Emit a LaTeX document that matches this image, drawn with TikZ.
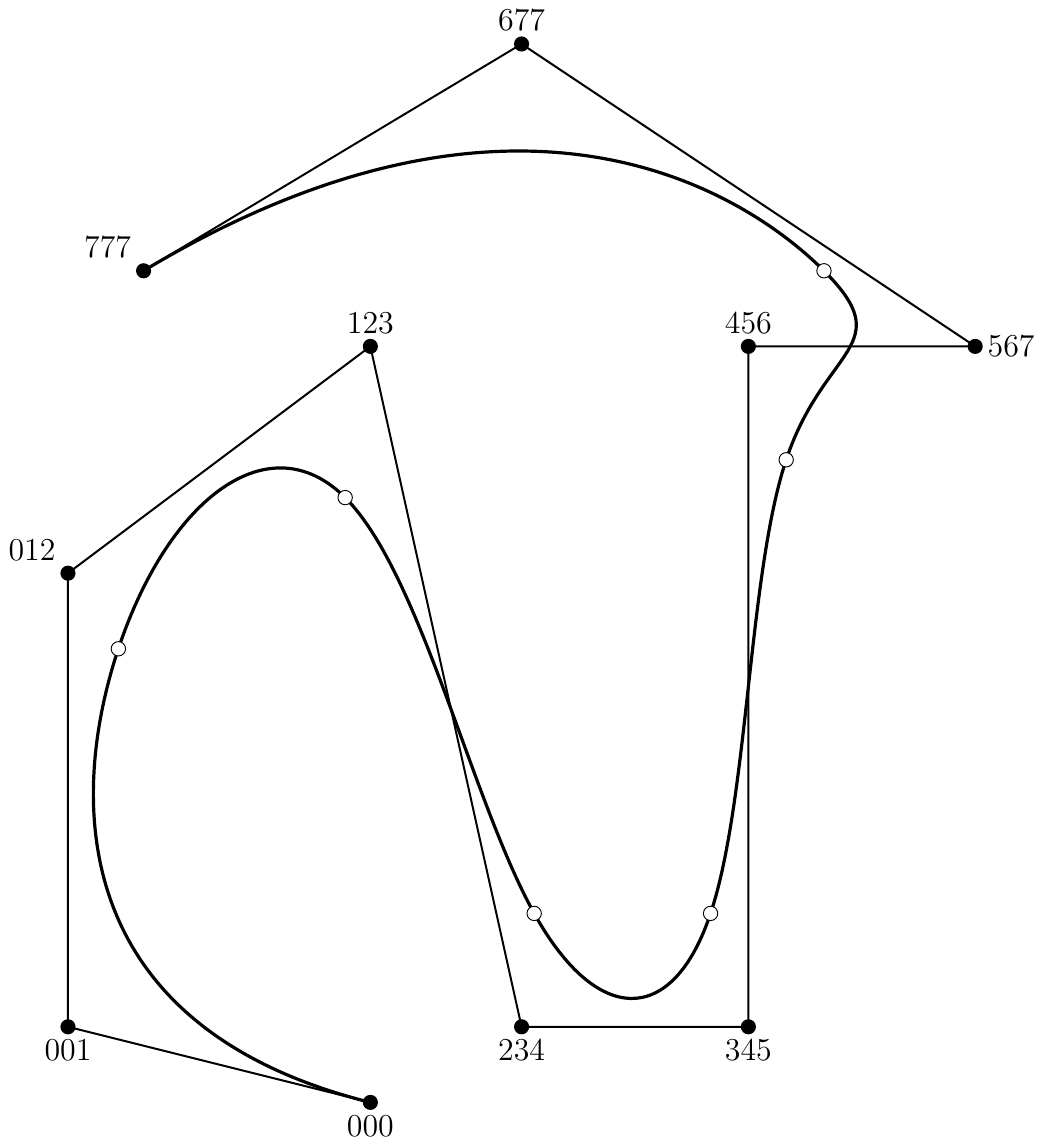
\documentclass[tikz,border=0pt]{standalone}
\begin{document}
\begin{tikzpicture}[
  poly/.style={line width=0.75pt},
  curve/.style={line width=1.2pt},
  ctrl/.style={circle,fill=black,inner sep=0pt,minimum size=0.2cm},
  knot/.style={circle,draw=black,fill=white,line width=0.35pt,inner sep=0pt,minimum size=0.19cm},
  lab/.style={font=\large,inner sep=4.5pt}
]
\useasboundingbox (-0.899,-0.537) rectangle (12.884,14.582);
% control points
\coordinate (p000) at (4,0);
\coordinate (p001) at (0,1);
\coordinate (p012) at (0,7);
\coordinate (p123) at (4,10);
\coordinate (p234) at (6,1);
\coordinate (p345) at (9,1);
\coordinate (p456) at (9,10);
\coordinate (p567) at (12,10);
\coordinate (p677) at (6,14);
\coordinate (p777) at (1,11);
% knot points
\coordinate (k1) at (2/3,6);
\coordinate (k2) at (11/3,8);
\coordinate (k3) at (37/6,2.5);
\coordinate (k4) at (8.5,2.5);
\coordinate (k5) at (9.5,8.5);
\coordinate (k6) at (10,11);
% control polygon
\draw[poly] (p000) -- (p001) -- (p012) -- (p123) -- (p234) -- (p345) -- (p456) -- (p567) -- (p677) -- (p777);
% B-spline curve as Bezier segments
\draw[curve] (p000) .. controls (0,1) and (0,4) .. (k1)
  .. controls (4/3,8) and (8/3,9) .. (k2)
  .. controls (14/3,7) and (16/3,4) .. (k3)
  .. controls (7,1) and (8,1) .. (k4)
  .. controls (9,4) and (9,7) .. (k5)
  .. controls (10,10) and (11,10) .. (k6)
  .. controls (9,12) and (6,14) .. (p777);
% dots
\foreach \p in {p000,p001,p012,p123,p234,p345,p456,p567,p677,p777}
  \node[ctrl] (d\p) at (\p) {};
\foreach \k in {k1,k2,k3,k4,k5,k6}
  \node[knot] (d\k) at (\k) {};
% labels
\node[lab,below] (l000) at (p000) {000};
\node[lab,below] (l001) at (p001) {001};
\node[lab,above left] (l012) at (p012) {012};
\node[lab,above] (l123) at (p123) {123};
\node[lab,below] (l234) at (p234) {234};
\node[lab,below] (l345) at (p345) {345};
\node[lab,above] (l456) at (p456) {456};
\node[lab,right] (l567) at (p567) {567};
\node[lab,above] (l677) at (p677) {677};
\node[lab,above left] (l777) at (p777) {777};
\end{tikzpicture}
\end{document}
